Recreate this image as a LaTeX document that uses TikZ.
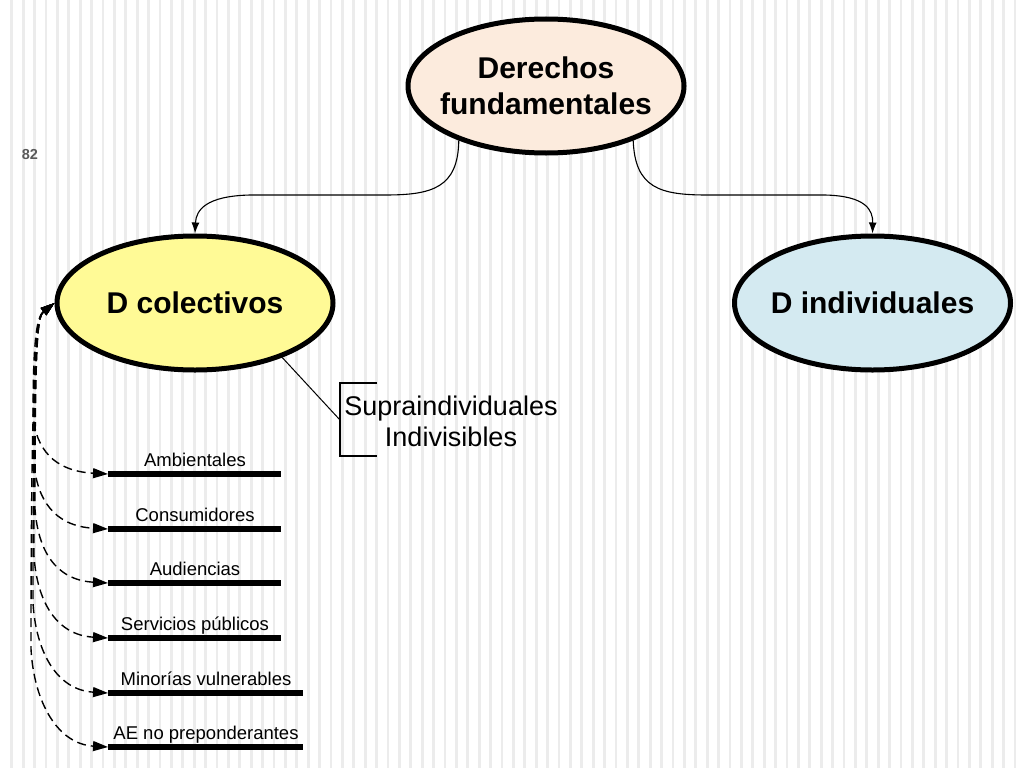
\documentclass[tikz,border=0pt]{standalone}
\usepackage{fontspec}
\setmainfont{Liberation Sans}
\usetikzlibrary{arrows.meta,shapes.geometric}
\definecolor{peach}{HTML}{FCEBDD}
\definecolor{lyellow}{HTML}{FFFA96}
\definecolor{lblue}{HTML}{D4EAF1}
\definecolor{stripe}{HTML}{ECECEC}
\definecolor{pgnum}{HTML}{5A5A5A}
\begin{document}
\begin{tikzpicture}[x=1pt,y=-1pt,
  ell/.style={ellipse,draw=black,line width=5pt,minimum width=276pt,minimum height=134pt,inner sep=0pt,font=\fontsize{30}{36}\selectfont\bfseries},
  conn/.style={line width=1.1pt,-{Latex[length=11pt,width=8pt]}},
  dasharrow/.style={line width=1.4pt,dash pattern=on 9pt off 5pt,{Triangle[length=14pt,width=9pt]}-{Triangle[length=15pt,width=10pt]}},
  bar/.style={line width=5.5pt},
  itemlabel/.style={anchor=base,inner sep=0pt,font=\fontsize{18.5}{21}\selectfont},
]
\useasboundingbox (0,0) rectangle (1024,768);
\fill[white] (0,0) rectangle (1024,768);
\foreach \k in {0,...,88}
  \fill[stripe] ({11.7+11.4*\k-1.4},0) rectangle ++(2.8,768);

\node[font=\fontsize{14.5}{16}\selectfont\bfseries,text=pgnum,inner sep=0pt] (pg) at (30,155) {82};

\node[ell,fill=peach] (df) at (546,86) {\makebox[0pt]{\raisebox{0pt}[\dimexpr\height+7pt\relax][\depth]{\begin{tabular}{@{}c@{}}Derechos\\fundamentales\end{tabular}}}};
\node[ell,fill=lyellow] (dc) at (195,303) {\makebox[0pt]{D colectivos}};
\node[ell,fill=lblue] (di) at (872.5,303) {\makebox[0pt]{D individuales}};

\draw[conn] (df.212) .. controls (458,188) and (432,195) .. (385,195) -- (250,195) .. controls (206,196) and (196,210) .. (dc.north);
\draw[conn] (df.328) .. controls (635,188) and (660,195) .. (707,195) -- (825,195) .. controls (866,196) and (873,210) .. (di.north);

% bracket
\coordinate (bm) at (340,420);
\coordinate (bt) at (377,383);
\coordinate (bb) at (377,456);
\draw[line width=1pt] (dc.-32) -- (bm);
\draw[line width=1.2pt] (bt) -- (340,383) -- (340,456) -- (bb);
\node[align=center,inner sep=0pt,font=\fontsize{27}{31}\selectfont] (sup) at (451,421) {Supraindividuales\\Indivisibles};

% items
\foreach \i/\y/\xe/\cx/\txt in {1/474/281/195/Ambientales, 2/529/281/195/Consumidores, 3/583/281/195/Audiencias, 4/638/281/195/Servicios públicos, 5/693/303/206/Minorías vulnerables, 6/747/303/206/AE no preponderantes}{
  \coordinate (s\i) at (108,\y);
  \coordinate (e\i) at (\xe,\y);
  \draw[bar] (s\i) -- (e\i);
  \node[itemlabel] (l\i) at (\cx,{\y-8}) {\txt};
}
\foreach \i/\y/\mx/\L in {1/474/33/58, 2/529/34/66, 3/583/35/74, 4/638/34/82, 5/693/33/90, 6/747/31/98}
  \draw[dasharrow] (dc.west) .. controls (38,316) and (\mx,330) .. (\mx,{\y-\L}) .. controls (\mx+3,{\y-0.45*\L}) and ({52+\i},{\y-3}) .. (s\i);
\end{tikzpicture}
\end{document}
